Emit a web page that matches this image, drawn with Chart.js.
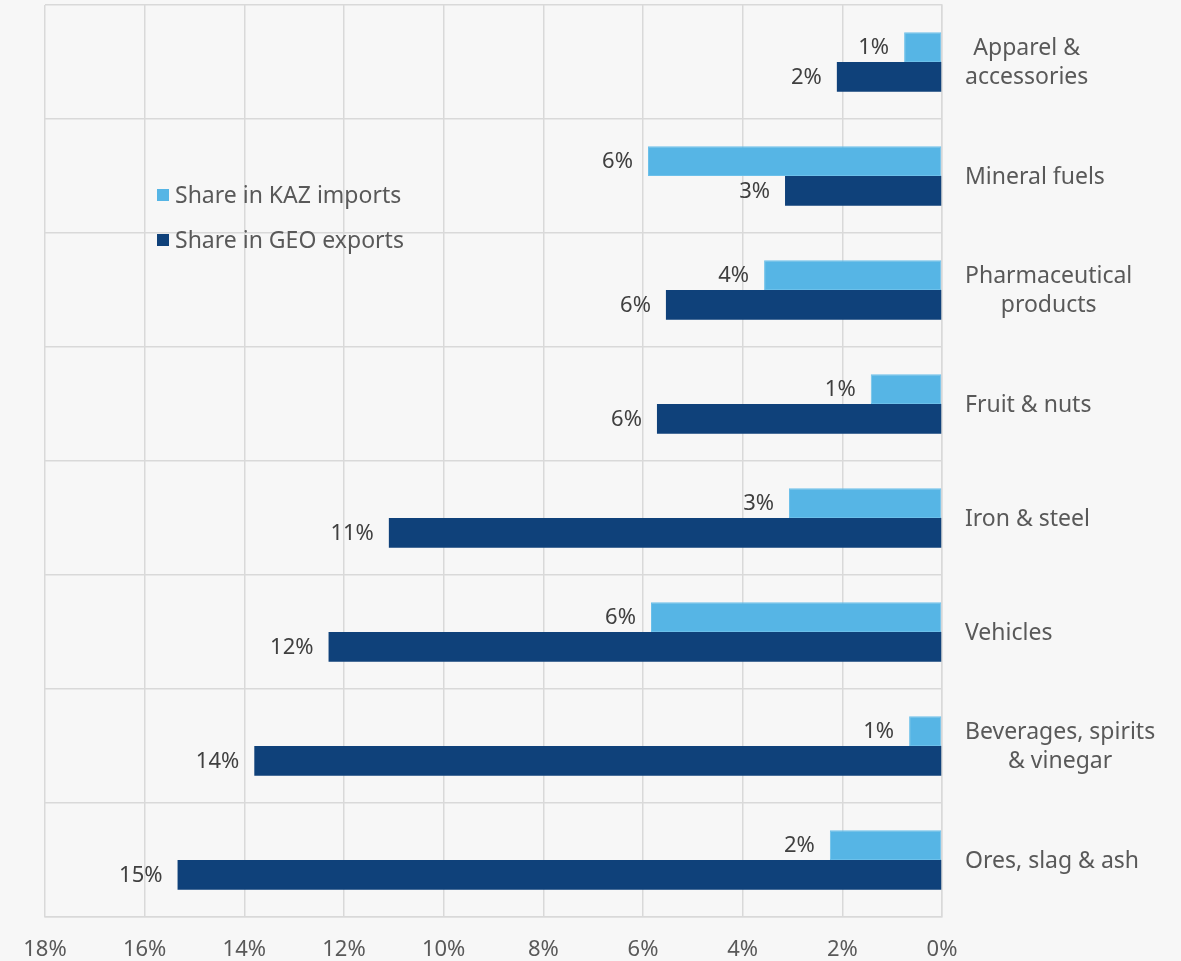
<!DOCTYPE html>
<html>
<head>
<meta charset="utf-8">
<script src="https://cdn.jsdelivr.net/npm/chart.js@4/dist/chart.umd.min.js"></script>
<style>
  html, body { margin: 0; padding: 0; background: #f7f7f7; }
  #wrap { width: 1181px; height: 961px; }
</style>
</head>
<body>
<div id="wrap"><canvas id="c" width="1181" height="961"></canvas></div>
<script>
const categories = [
  ['Apparel &', 'accessories'],
  ['Mineral fuels'],
  ['Pharmaceutical', 'products'],
  ['Fruit & nuts'],
  ['Iron & steel'],
  ['Vehicles'],
  ['Beverages, spirits', '& vinegar'],
  ['Ores, slag & ash']
];
const kazImports = [0.76, 5.9, 3.57, 1.43, 3.07, 5.84, 0.66, 2.25];
const geoExports = [2.11, 3.15, 5.54, 5.72, 11.1, 12.31, 13.8, 15.34];
const seriesNames = ['Share in KAZ imports', 'Share in GEO exports'];
const seriesColors = ['#56b5e5', '#0f417a'];
const xMin = 0, xMax = 18, xStep = 2;

const FONT = '"Noto Sans", "Open Sans", sans-serif';
const gridColor = '#d9d9d9';
const textColor = '#595959';

const bgPlugin = {
  id: 'bg',
  beforeDraw(chart) {
    const ctx = chart.ctx;
    ctx.save();
    ctx.fillStyle = '#f7f7f7';
    ctx.fillRect(0, 0, chart.width, chart.height);
    ctx.restore();
  }
};

const labelPlugin = {
  id: 'labels',
  afterDatasetsDraw(chart) {
    const ctx = chart.ctx;
    ctx.save();
    ctx.font = '22px ' + FONT;
    ctx.fillStyle = '#404040';
    ctx.textAlign = 'right';
    ctx.textBaseline = 'middle';
    chart.data.datasets.forEach((ds, di) => {
      const meta = chart.getDatasetMeta(di);
      meta.data.forEach((bar, i) => {
        const v = ds.data[i];
        ctx.fillText(Math.round(v) + '%', bar.x - 15, bar.y + 1);
      });
    });
    // category labels on the right
    ctx.font = '23px ' + FONT;
    const y = chart.scales.y;
    const area = chart.chartArea;
    ctx.fillStyle = textColor;
    ctx.textAlign = 'center';
    const lh = 29;
    categories.forEach((lines, i) => {
      const cy = y.getPixelForValue(i);
      let maxW = 0;
      lines.forEach(l => { maxW = Math.max(maxW, ctx.measureText(l).width); });
      const cx = area.right + 23 + maxW / 2;
      const y0 = cy - (lines.length - 1) * lh / 2 + 1;
      lines.forEach((l, k) => ctx.fillText(l, cx, y0 + k * lh));
    });
    // legend
    ctx.textAlign = 'left';
    const lx = 157, ly = [195, 240];
    chart.data.datasets.forEach((ds, di) => {
      ctx.fillStyle = ds.backgroundColor;
      ctx.fillRect(lx, ly[di] - 6, 12, 12);
      ctx.fillStyle = textColor;
      ctx.fillText(ds.label, lx + 18, ly[di] + 1);
    });
    ctx.restore();
  }
};

new Chart(document.getElementById('c'), {
  type: 'bar',
  data: {
    labels: categories.map(l => l.join(' ')),
    datasets: [
      { label: seriesNames[0], data: kazImports, backgroundColor: seriesColors[0],
        borderColor: '#6cc0ea', borderWidth: 1, borderSkipped: false },
      { label: seriesNames[1], data: geoExports, backgroundColor: seriesColors[1],
        borderWidth: 0 }
    ]
  },
  options: {
    indexAxis: 'y',
    responsive: false,
    animation: false,
    devicePixelRatio: 1,
    layout: { padding: { left: 45, top: 5, right: 0, bottom: 0 } },
    datasets: { bar: { barPercentage: 1.0, categoryPercentage: 0.52 } },
    plugins: { legend: { display: false }, tooltip: { enabled: false } },
    scales: {
      x: {
        reverse: true,
        min: xMin, max: xMax,
        ticks: {
          stepSize: xStep,
          padding: 20,
          color: textColor,
          font: { family: FONT, size: 22 },
          callback: v => v + '%',
          maxRotation: 0
        },
        grid: { color: gridColor, lineWidth: 1.5, drawTicks: false },
        border: { display: true, color: gridColor, width: 1.5 },
        afterFit(s) { s.height = 44; }
      },
      y: {
        position: 'right',
        ticks: { display: false },
        grid: { color: gridColor, lineWidth: 1.5, drawTicks: false, offset: true },
        border: { display: true, color: gridColor, width: 1.5 },
        afterFit(s) { s.width = 239; }
      }
    }
  },
  plugins: [bgPlugin, labelPlugin]
});
</script>
</body>
</html>
